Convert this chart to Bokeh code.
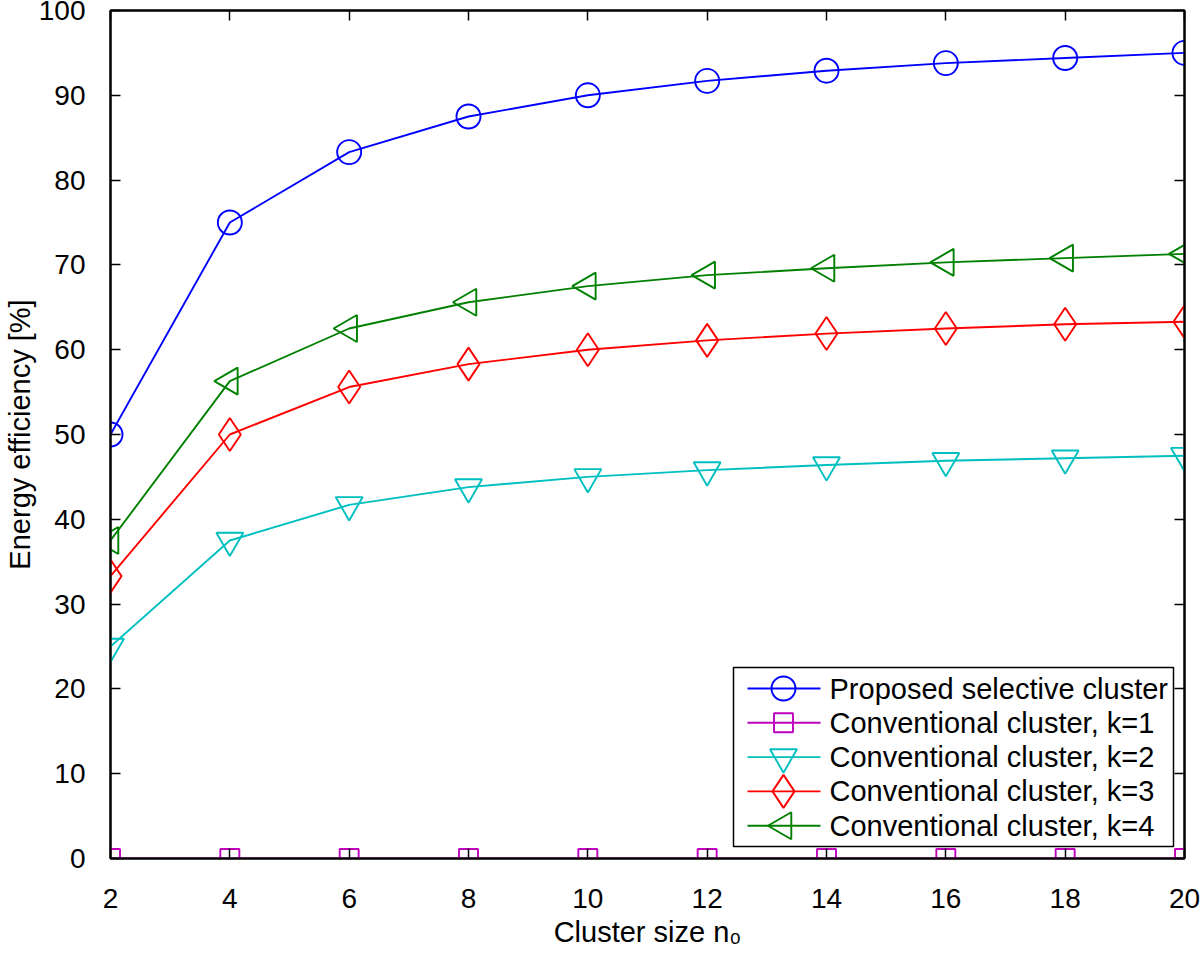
import math
from bokeh.plotting import figure
from bokeh.models import LinearAxis, Range1d, FixedTicker, ColumnDataSource
from bokeh.embed import file_html
from bokeh.resources import INLINE
from bokeh.core.properties import value

# ---- data ----
cluster_size = [2, 4, 6, 8, 10, 12, 14, 16, 18, 20]
proposed = [50.0, 75.0, 83.3, 87.5, 90.0, 91.7, 92.9, 93.8, 94.4, 95.0]
conv_k1 = [0, 0, 0, 0, 0, 0, 0, 0, 0, 0]
conv_k2 = [25.0, 37.5, 41.7, 43.8, 45.0, 45.8, 46.4, 46.9, 47.2, 47.5]
conv_k3 = [33.3, 50.0, 55.6, 58.3, 60.0, 61.1, 61.9, 62.5, 63.0, 63.3]
conv_k4 = [37.5, 56.3, 62.5, 65.6, 67.5, 68.8, 69.6, 70.3, 70.8, 71.3]
series_names = ["Proposed selective cluster", "Conventional cluster, k=1",
                "Conventional cluster, k=2", "Conventional cluster, k=3",
                "Conventional cluster, k=4"]
x_ticks = [2, 4, 6, 8, 10, 12, 14, 16, 18, 20]
y_ticks = [0, 10, 20, 30, 40, 50, 60, 70, 80, 90, 100]
x_label = "Cluster size n\u2080"
y_label = "Energy efficiency [%]"

# ---- style ----
FONT = "Liberation Sans"
colors = ["#0000FF", "#BF00BF", "#00BFBF", "#FF0000", "#008000"]
markers = ["circle", "square", "inverted_triangle", "diamond", "triangle"]
msizes = [24, 19, 27, 33, 27]
mangles = [0, 0, 0, 0, math.pi / 2]
LW = 1.9

FL, FW = 110, 1074          # frame left (px), frame width
FT, FH = 10, 848            # frame top (px), frame height
XMIN, XMAX, YMIN, YMAX = 2, 20, 0, 100

def fx(px):
    return XMIN + (px - FL) / FW * (XMAX - XMIN)

def fy(py):
    return YMIN + (FT + FH - py) / FH * (YMAX - YMIN)

p = figure(frame_width=FW, frame_height=FH,
           x_range=Range1d(XMIN, XMAX), y_range=Range1d(YMIN, YMAX),
           output_backend="svg", toolbar_location=None,
           min_border_left=FL, min_border_right=16, min_border_top=FT,
           min_border_bottom=113)
p.background_fill_color = "white"
p.border_fill_color = "white"
p.outline_line_color = "black"
p.outline_line_width = 2
p.xgrid.visible = False
p.ygrid.visible = False

for ax, ticks in ((p.xaxis[0], x_ticks), (p.yaxis[0], y_ticks)):
    ax.ticker = FixedTicker(ticks=ticks)
    ax.major_tick_in = 10
    ax.major_tick_out = 0
    ax.minor_tick_in = 0
    ax.minor_tick_out = 0
    ax.axis_line_width = 2
    ax.major_tick_line_width = 1.5
    ax.major_label_text_font = FONT
    ax.major_label_text_font_size = "28px"
    ax.major_label_text_color = "black"
    ax.axis_label_text_font = FONT
    ax.axis_label_text_font_size = "29px"
    ax.axis_label_text_font_style = "normal"
    ax.axis_label_text_color = "black"
p.xaxis[0].major_label_standoff = 30
p.yaxis[0].major_label_standoff = 25
p.xaxis[0].axis_label = x_label
p.yaxis[0].axis_label = y_label
p.xaxis[0].axis_label_standoff = 5
p.yaxis[0].axis_label_standoff = 0

# mirrored ticks on top and right (minor ticks only, so no labels)
for loc, ticks in (("above", x_ticks), ("right", y_ticks)):
    ax = LinearAxis(ticker=FixedTicker(ticks=[], minor_ticks=ticks),
                    major_tick_in=0, major_tick_out=0,
                    minor_tick_in=10, minor_tick_out=0, minor_tick_line_width=1.5,
                    minor_tick_line_color="black",
                    axis_line_width=2, major_label_standoff=0)
    p.add_layout(ax, loc)

# ---- series ----
all_series = [proposed, conv_k1, conv_k2, conv_k3, conv_k4]
for ys, c, m, s, a in zip(all_series, colors, markers, msizes, mangles):
    src = ColumnDataSource(dict(x=cluster_size, y=ys))
    p.line("x", "y", source=src, line_color=c, line_width=LW)
    p.scatter("x", "y", source=src, marker=m, size=s, angle=a,
              line_color=c, line_width=LW, fill_alpha=0)

# ---- legend (drawn manually, sized like the original) ----
box_r = FL + FW - 11
box_l = box_r - 440
box_b = FT + FH - 12
box_t = box_b - 179
p.quad(left=[fx(box_l)], right=[fx(box_r)], bottom=[fy(box_b)], top=[fy(box_t)],
       fill_color="white", line_color="black", line_width=1.5)
row_y = [fy(box_t + 21 + i * 34.3) for i in range(len(series_names))]
for i, (c, m, s, a) in enumerate(zip(colors, markers, msizes, mangles)):
    p.line([fx(box_l + 14), fx(box_l + 87)], [row_y[i], row_y[i]], line_color=c, line_width=LW)
    p.scatter([fx(box_l + 50)], [row_y[i]], marker=m, size=s, angle=a,
              line_color=c, line_width=LW, fill_alpha=0)
p.text(x=[fx(box_l + 96)] * len(series_names), y=row_y, text=series_names,
       text_font=value(FONT), text_font_size=value("29px"), text_color="black",
       text_baseline="middle", text_align="left")

open("out.html", "w").write(file_html(p, INLINE))
